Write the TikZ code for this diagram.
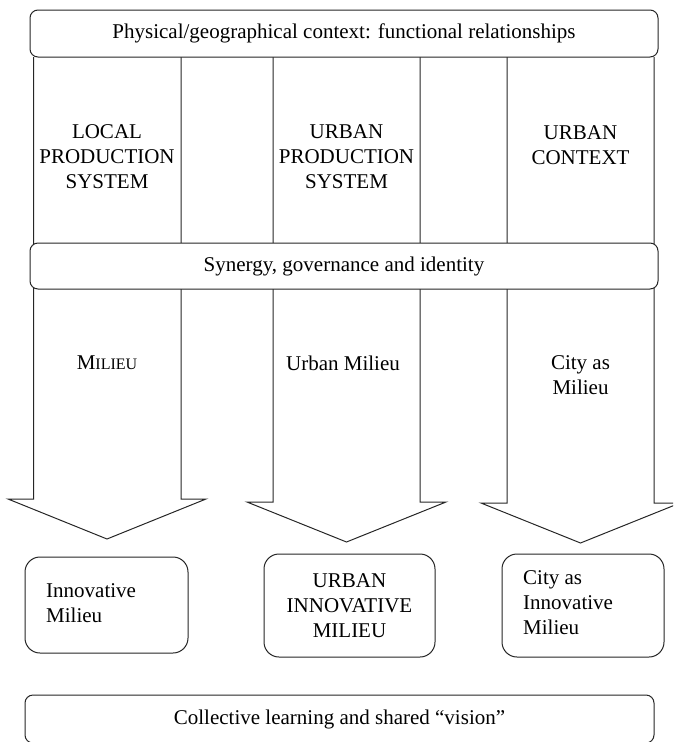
\documentclass[tikz,border=0pt]{standalone}
\usepackage{fontspec}
\setmainfont{Liberation Serif}
\begin{document}
\begin{tikzpicture}[x=1pt,y=-1pt,
  every node/.style={font=\fontsize{21}{25}\selectfont},
  outline/.style={draw=black!85,line width=1pt},
  band/.style={outline,fill=white,rounded corners=8pt,inner sep=0pt},
  outcome/.style={outline,fill=white,rounded corners=15pt,inner sep=0pt,align=center},
  label/.style={align=center,inner sep=0pt},
  leftlabel/.style={align=left,inner sep=0pt,anchor=west}]
\useasboundingbox (0,0) rectangle (673,742);
\begin{scope}
\clip (0,0) rectangle (673,742);

% three columns that end in broad downward arrows
\draw[outline] (33.5,57) -- (33.5,499) -- (8,499) -- (107,539) -- (206,499) -- (181,499) -- (181,57);
\draw[outline] (273,57) -- (273,502) -- (247,502) -- (346.5,542) -- (446,502) -- (420,502) -- (420,57);
\draw[outline] (507,57) -- (507,503) -- (481,503) -- (580.5,543) -- (680,503) -- (654,503) -- (654,57);

% horizontal bands
\node[band,minimum width=628pt,minimum height=47pt] (context) at (344,33.5)
  {Physical/geographical context: functional relationships};
\node[band,minimum width=628pt,minimum height=46pt] (synergy) at (344,266)
  {Synergy, governance and identity};
\node[band,minimum width=629pt,minimum height=48pt] (learning) at (339.5,719)
  {Collective learning and shared ``vision''};

% column labels
\node[label] (lps) at (107,157) {LOCAL\\PRODUCTION\\SYSTEM};
\node[label] (ups) at (346.5,157) {URBAN\\PRODUCTION\\SYSTEM};
\node[label] (uc) at (580.5,145) {URBAN\\CONTEXT};
\node[label] (milieu) at (107,363) {M{\fontsize{16}{25}\selectfont ILIEU}};
\node[label] (umilieu) at (343,363) {Urban Milieu};
\node[label] (cmilieu) at (580.5,375) {City as\\Milieu};

% outcomes
\node[outcome,minimum width=163pt,minimum height=96pt] (im) at (106.5,605) {};
\node[leftlabel] (imtext) at (46,603) {Innovative\\Milieu};
\node[outcome,minimum width=171pt,minimum height=103pt] (uim) at (349.5,605.5)
  {URBAN\\INNOVATIVE\\MILIEU};
\node[outcome,minimum width=162pt,minimum height=103pt] (cim) at (583,605.5) {};
\node[leftlabel] (cimtext) at (523,603) {City as\\Innovative\\Milieu};
\end{scope}
\end{tikzpicture}
\end{document}
